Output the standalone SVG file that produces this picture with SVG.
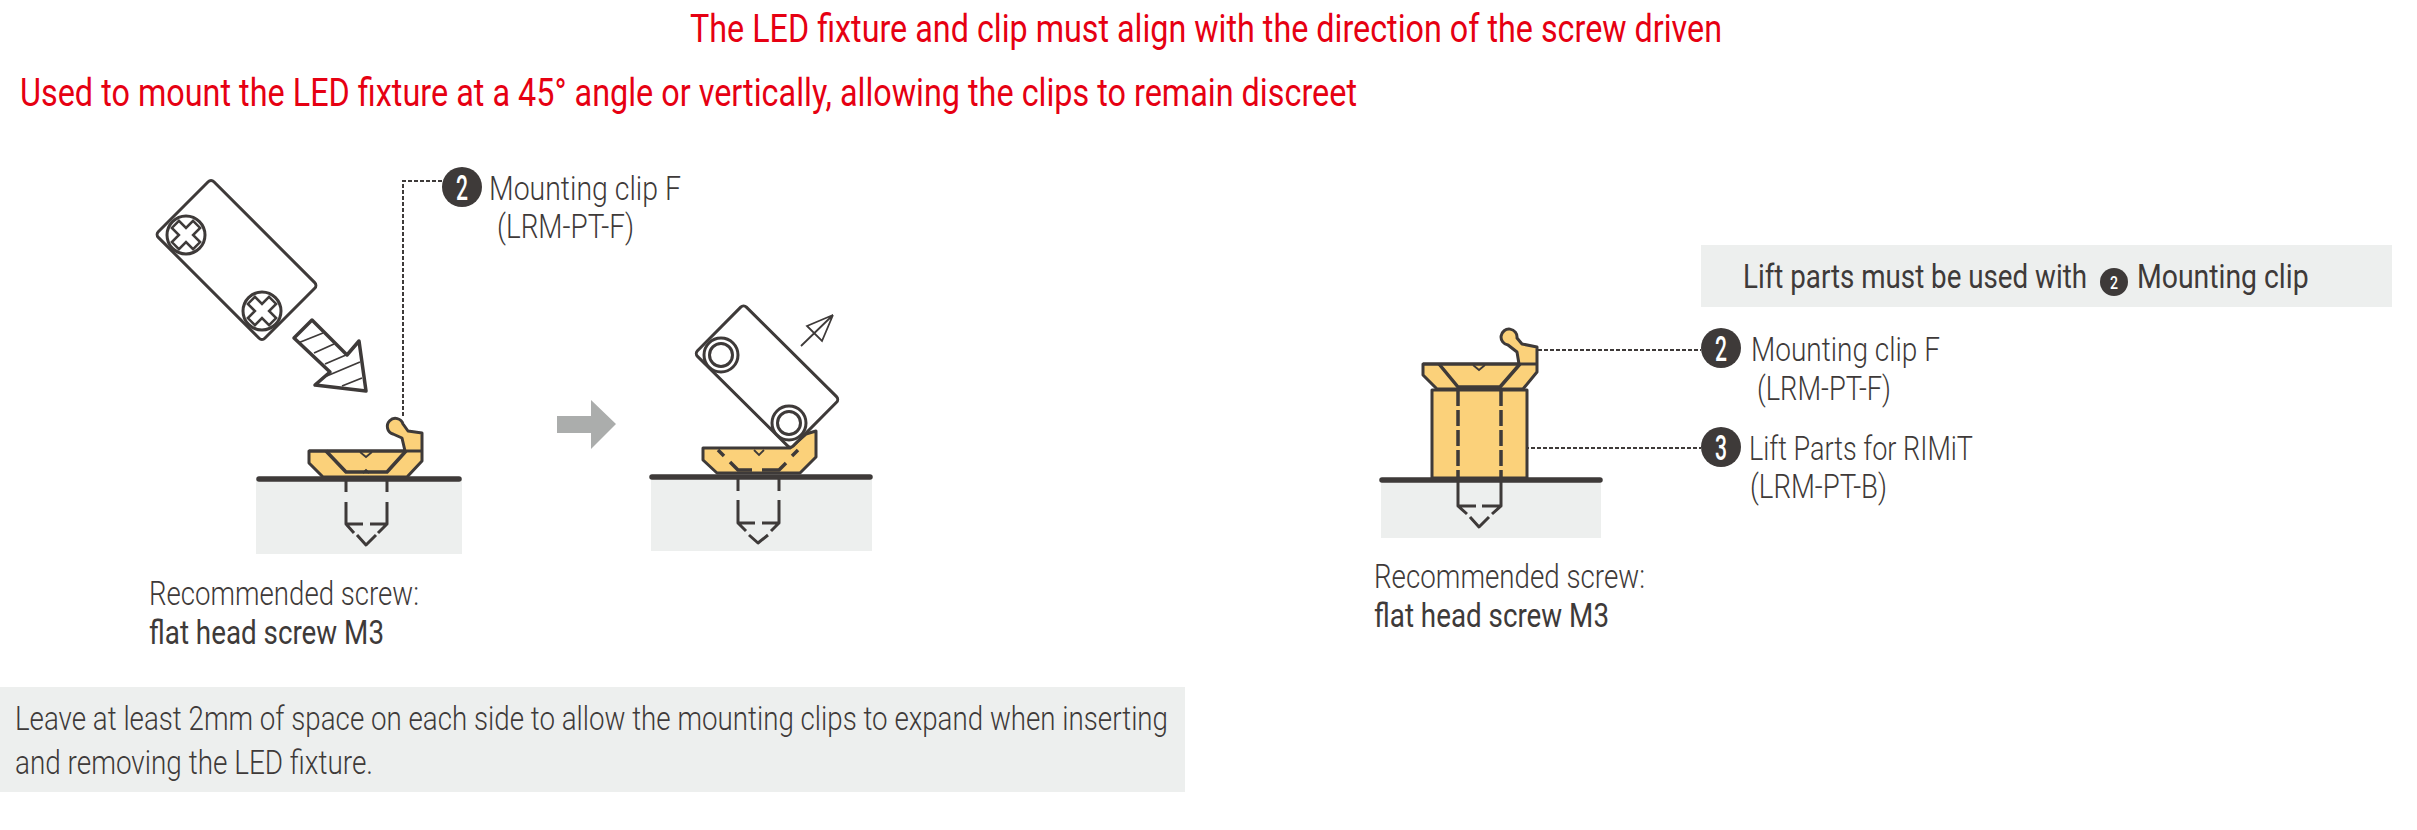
<svg xmlns="http://www.w3.org/2000/svg" width="2417" height="830" viewBox="0 0 2417 830">
<style>
text{font-family:Roboto,"Liberation Sans",sans-serif;fill:#3e3a39;font-size:33px;font-weight:300}
.red{fill:#e60012;font-size:38px;font-weight:400}
.b{font-weight:400}
.num{fill:#fff;font-size:35px;font-weight:500}
.bg{fill:#edefee}
.ln{fill:none;stroke:#3e3a39;stroke-width:3;stroke-linejoin:round}
.th{fill:none;stroke:#3e3a39;stroke-width:1.8}
.k{fill:none;stroke:#3e3a39;stroke-width:3.5;stroke-linejoin:round}
.clip{fill:#fbd17a;stroke:#3e3a39;stroke-width:3;stroke-linejoin:round}
.led{fill:#fff;stroke:#3e3a39;stroke-width:3}
.gr{stroke:#3e3a39;stroke-width:5.5;stroke-linecap:round}
.lead{fill:none;stroke:#3e3a39;stroke-width:2;stroke-dasharray:4 2}
.bd{fill:#3e3a39}
</style>
<defs>
<g id="cross"><path class="th" style="stroke-width:2.5" d="M-5-15H5V-5H15V5H5V15H-5V5H-15V-5H-5Z" transform="rotate(45)"/></g>
<g id="hole"><circle class="ln" r="17"/><circle class="ln" r="11.5"/></g>
</defs>

<g id="title-1"><text class="red" x="690" y="42" textLength="1032" lengthAdjust="spacingAndGlyphs">The LED fixture and clip must align with the direction of the screw driven</text></g>
<g id="title-2"><text class="red" x="20" y="106" textLength="1337" lengthAdjust="spacingAndGlyphs">Used to mount the LED fixture at a 45° angle or vertically, allowing the clips to remain discreet</text></g>

<g id="connectors">
<path class="lead" d="M442 181H403V417"/>
<path class="lead" d="M1520 350H1701"/>
<path class="lead" d="M1513 448H1701"/>
</g>

<g id="fixture-insert">
<rect class="led" x="-75.300" y="-39.300" width="150.600" height="78.600" rx="4" transform="translate(236.500 260) rotate(45)"/>
<circle class="ln" cx="186" cy="235" r="19"/><use href="#cross" x="186" y="235"/>
<circle class="ln" cx="262" cy="311" r="19"/><use href="#cross" x="262" y="311"/>
<path class="k" d="M312 320L294 338L330 372L315 385L366 391L359 341L347 355Z"/>
<path class="th" d="M298 343L323 333M314 353L334 344M325 364L346 355M322 378L360 362M342 386L362 378"/>
</g>

<g id="clip-insert">
<rect class="bg" x="256" y="479" width="206" height="75"/>
<path class="clip" d="M309 451V463L323 477H407L422 461V433L408 431L403 424A8 8 0 1 0 393 434L402 438L405 451Z"/>
<path class="ln" d="M309 451H422"/>
<path class="k" d="M326 451L346 472H387L406 451"/>
<path class="th" d="M360 452L366 457L372 452M363 473L366 470L369 473"/>
<path class="gr" d="M259 479H459"/>
<path class="ln" d="M346 477V492M387 477V492M346 502V524H363M370 524H387V502M346 524L354 533M387 524L378 533M357 535L366 545L376 535"/>
</g>

<g id="text-screw-1">
<text x="149" y="605" textLength="270" lengthAdjust="spacingAndGlyphs">Recommended screw:</text>
<text class="b" x="149" y="644" textLength="235" lengthAdjust="spacingAndGlyphs">flat head screw M3</text>
</g>

<g id="label-clip-left">
<circle class="bd" cx="462" cy="187" r="20"/><text class="num" x="456" y="199.500" textLength="12" lengthAdjust="spacingAndGlyphs">2</text>
<text x="489" y="200" textLength="192" lengthAdjust="spacingAndGlyphs">Mounting clip F</text>
<text x="497" y="238" textLength="137" lengthAdjust="spacingAndGlyphs">(LRM-PT-F)</text>
</g>

<g id="next-arrow"><path fill="#abadac" d="M557 416H591V400L616 424L591 449V433H557Z"/></g>

<g id="clip-remove">
<rect class="bg" x="651" y="477" width="221" height="74"/>
<path class="clip" d="M703 448V460L717 473H800L816 457V431L806 434L790 448Z"/>
<path class="gr" d="M652 477H870"/>
<path class="k" d="M718 450L724 456M730 462L738 470H752M762 470H779L786 463M792 456L798 450"/>
<path class="ln" d="M738 477V491M779 477V491M738 500V523H755M762 523H779V500M738 523L746 531M779 523L771 531M749 535L758 543L768 535"/>
<path class="th" d="M754 450L759 455L764 450"/>
</g>

<g id="fixture-remove">
<rect class="led" x="-67.500" y="-34.700" width="135" height="69.400" rx="4" transform="translate(767 376.500) rotate(44.800)"/>
<use href="#hole" x="721" y="355"/>
<use href="#hole" x="789" y="423"/>
<path class="th" d="M801 346L833 315L807 326L822 341L833 315"/>
</g>

<g id="text-note">
<rect class="bg" x="0" y="687" width="1185" height="105"/>
<text x="15" y="730" textLength="1153" lengthAdjust="spacingAndGlyphs">Leave at least 2mm of space on each side to allow the mounting clips to expand when inserting</text>
<text x="15" y="774" textLength="358" lengthAdjust="spacingAndGlyphs">and removing the LED fixture.</text>
</g>

<g id="clip-lift">
<rect class="bg" x="1381" y="480" width="220" height="58"/>
<path class="clip" d="M1432 390H1527V478H1432Z"/>
<path class="clip" d="M1423 364V375L1437 389H1523L1537 372V347L1522 344L1517 338A8 8 0 1 0 1508 345L1517 352L1519 364Z"/>
<path class="ln" d="M1423 364H1537"/>
<path class="k" d="M1439 364L1458 387H1500L1520 364"/>
<path class="th" d="M1473 365L1479 370L1485 365"/>
<path class="k" d="M1458 390V477M1501 390V477" stroke-dasharray="16 4"/>
<path class="gr" d="M1382 480H1600"/>
<path class="ln" d="M1458 480V506H1476M1482 506H1501V480M1458 506L1467 514M1501 506L1492 514M1470 517L1479 527L1489 517"/>
</g>

<g id="text-screw-2">
<text x="1374" y="588" textLength="271" lengthAdjust="spacingAndGlyphs">Recommended screw:</text>
<text class="b" x="1374" y="627" textLength="235" lengthAdjust="spacingAndGlyphs">flat head screw M3</text>
</g>

<g id="label-clip-right">
<circle class="bd" cx="1721" cy="348" r="20"/><text class="num" x="1715" y="360.500" textLength="12" lengthAdjust="spacingAndGlyphs">2</text>
<text x="1751" y="361" textLength="189" lengthAdjust="spacingAndGlyphs">Mounting clip F</text>
<text x="1757" y="400" textLength="134" lengthAdjust="spacingAndGlyphs">(LRM-PT-F)</text>
</g>

<g id="label-lift">
<circle class="bd" cx="1721" cy="447" r="20"/><text class="num" x="1715" y="459.500" textLength="12" lengthAdjust="spacingAndGlyphs">3</text>
<text x="1749" y="460" textLength="224" lengthAdjust="spacingAndGlyphs">Lift Parts for RIMiT</text>
<text x="1750" y="498" textLength="137" lengthAdjust="spacingAndGlyphs">(LRM-PT-B)</text>
</g>

<g id="note-lift">
<rect class="bg" x="1701" y="245" width="691" height="62"/>
<text class="b" transform="translate(1743 288) scale(.78 1)" x="0" y="0" textLength="441" lengthAdjust="spacingAndGlyphs">Lift parts must be used with</text>
<circle class="bd" cx="2114" cy="282" r="14"/><text class="num" style="font-size:19px" x="2110" y="289" textLength="8" lengthAdjust="spacingAndGlyphs">2</text>
<text class="b" transform="translate(2137 288) scale(.78 1)" x="0" y="0" textLength="220" lengthAdjust="spacingAndGlyphs">Mounting clip</text>
</g>
</svg>
